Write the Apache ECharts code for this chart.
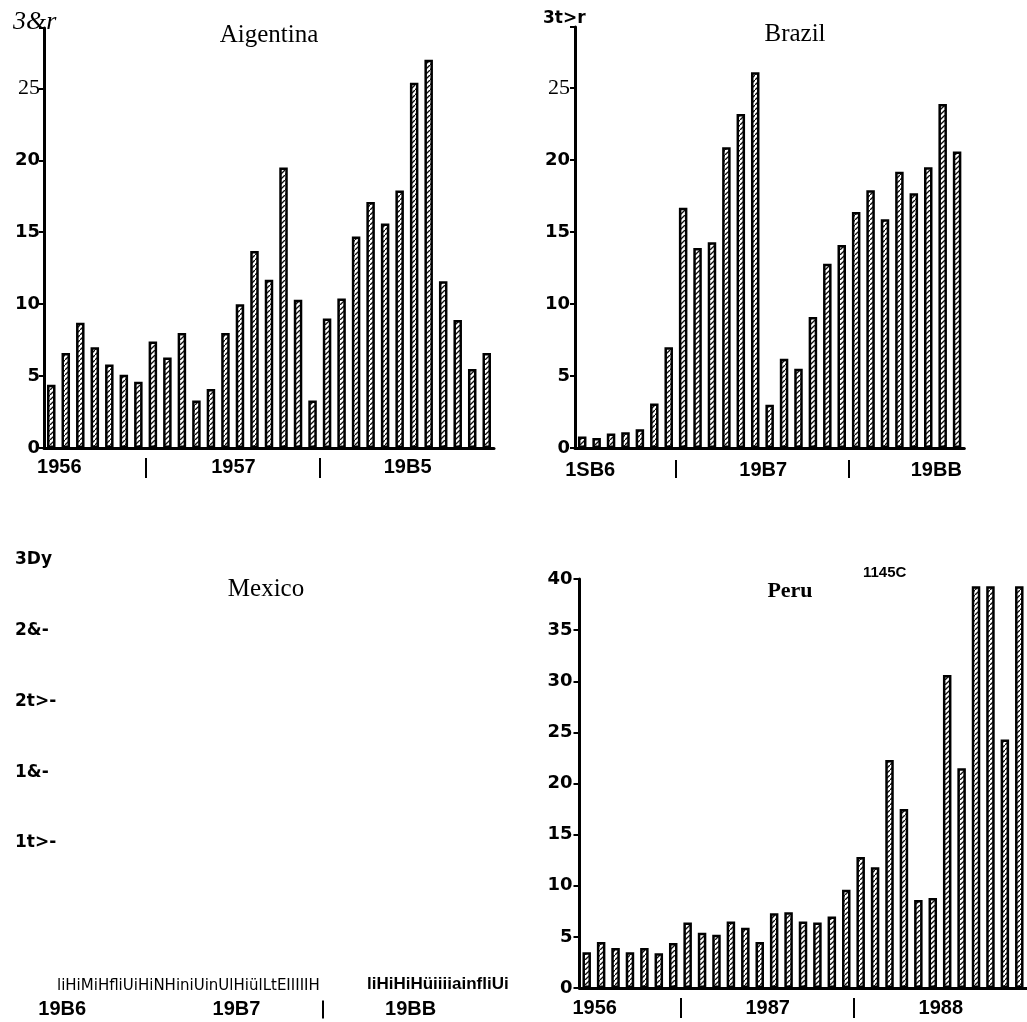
<!DOCTYPE html>
<html>
<head>
<meta charset="utf-8">
<script src="https://cdn.jsdelivr.net/npm/echarts@6/dist/echarts.min.js"></script>
<style>
html,body{margin:0;padding:0;background:#fff;}
#chart{width:1027px;height:1022px;}
</style>
</head>
<body>
<div id="chart"></div>
<script>
// ---------- DATA ----------
const months = ['Jun 1986','Jul 1986','Aug 1986','Sep 1986','Oct 1986','Nov 1986','Dec 1986',
  'Jan 1987','Feb 1987','Mar 1987','Apr 1987','May 1987','Jun 1987','Jul 1987','Aug 1987','Sep 1987','Oct 1987','Nov 1987','Dec 1987',
  'Jan 1988','Feb 1988','Mar 1988','Apr 1988','May 1988','Jun 1988','Jul 1988','Aug 1988','Sep 1988','Oct 1988','Nov 1988','Dec 1988'];
const brazilMonths = ['Jun 1986','Jul 1986','Aug 1986','Sep 1986','Oct 1986','Nov 1986','Dec 1986',
  'Jan 1987','Feb 1987','Mar 1987','Apr 1987','May 1987','Jun 1987','Jul 1987','Aug 1987','Sep 1987','Oct 1987','Nov 1987','Dec 1987',
  'Jan 1988','Feb 1988','Mar 1988','Apr 1988','May 1988','Jun 1988','Jul 1988','Aug 1988'];

const argentina = [4.4,6.6,8.7,7.0,5.8,5.1,4.6,
  7.4,6.3,8.0,3.3,4.1,8.0,10.0,13.7,11.7,19.5,10.3,3.3,
  9.0,10.4,14.7,17.1,15.6,17.9,25.4,27.0,11.6,8.9,5.5,6.6];
const brazil = [0.8,0.7,1.0,1.1,1.3,3.1,7.0,
  16.7,13.9,14.3,20.9,23.2,26.1,3.0,6.2,5.5,9.1,12.8,14.1,
  16.4,17.9,15.9,19.2,17.7,19.5,23.9,20.6];
const peru = [3.5,4.5,3.9,3.5,3.9,3.4,4.4,
  6.4,5.4,5.2,6.5,5.9,4.5,7.3,7.4,6.5,6.4,7.0,9.6,
  12.8,11.8,22.3,17.5,8.6,8.8,30.6,21.5,39.3,39.3,24.3,39.3];

const titles = ['Aigentina','Brazil','Mexico','Peru'];
const argYLabels = ['0','5','10','15','20','25','3&r'];
const brazilYLabels = ['0','5','10','15','20','25','3t>r'];
const mexicoYLabels = ['','','1t>-','1&-','2t>-','2&-','3Dy'];
const peruYLabels = ['0','5','10','15','20','25','30','35','40'];

const argYears = ['1956','1957','19B5'];
const brazilYears = ['1SB6','19B7','19BB'];
const mexicoYears = ['19B6','19B7','19BB'];
const peruYears = ['1956','1987','1988'];
const yearLabelIdx = [0,12,24];
const separatorIdx = [7,19];
const mexicoSeparatorIdx = [19];

const peruNote = '1145C';
const mexicoRowSmall = 'liHiMiHfliUiHiNHiniUinUlHiülLtEIIIIIH';
const mexicoRowBold = 'liHiHiHüiiiiainfliUi';

// ---------- STYLE ----------
const argYStyle = ['b','b','b','b','b','s','i'];
const brazilYStyle = ['b','b','b','b','b','s','w'];

function hatch(){
  const c = document.createElement('canvas');
  c.width = 5; c.height = 5;
  const g = c.getContext('2d');
  g.fillStyle = '#fff'; g.fillRect(0,0,5,5);
  g.strokeStyle = '#111'; g.lineWidth = 1.3;
  g.beginPath(); g.moveTo(-1,6); g.lineTo(6,-1); g.stroke();
  return c;
}
const pattern = {image: hatch(), repeat: 'repeat'};

const yRich = {
  b: {fontFamily:'DejaVu Sans', fontWeight:'bold', fontSize:18, color:'#000'},
  s: {fontFamily:'Liberation Serif', fontSize:22, color:'#000'},
  i: {fontFamily:'Liberation Serif', fontStyle:'italic', fontSize:26, color:'#000', width:27, align:'left', padding:[0,0,12,0]},
  w: {fontFamily:'DejaVu Sans', fontWeight:'bold', fontSize:17, color:'#000', width:27, align:'left', padding:[0,0,17,0]}
};
const yearRich = {
  y: {fontFamily:'Liberation Sans', fontWeight:'bold', fontSize:20, color:'#000', padding:[0,0,0,16]}
};

const grids = [
  {left:44, top:28, width:450, height:420},
  {left:575, top:27, width:389.3, height:421},
  {left:47, top:560, width:450, height:424.5},
  {left:579.5, top:579, width:447, height:409}
];

function yearFormatter(labels){
  return function(v, i){
    const k = yearLabelIdx.indexOf(i);
    return k >= 0 ? '{y|' + labels[k] + '}' : '';
  };
}
function mainX(gi, data, labels, margin, showLine){
  return {
    type:'category', gridIndex:gi, data:data, position:'bottom',
    axisLine:{show:showLine, lineStyle:{color:'#000', width:3}},
    axisTick:{show:false},
    axisLabel:{interval:0, margin:margin, formatter:yearFormatter(labels), rich:yearRich}
  };
}
function sepX(gi, count, idx, offset, len){
  return {
    type:'value', gridIndex:gi, min:0, max:count, position:'bottom', offset:offset,
    axisLine:{show:false}, axisLabel:{show:false}, splitLine:{show:false},
    axisTick:{show:true, length:len, customValues:idx, lineStyle:{color:'#000', width:2}}
  };
}
function valY(gi, max, labels, styles, margin, showLine, tickLen){
  return {
    type:'value', gridIndex:gi, min:0, max:max, interval:5,
    splitLine:{show:false},
    axisLine:{show:showLine, lineStyle:{color:'#000', width:3}},
    axisTick:{show:showLine, length:tickLen, lineStyle:{color:'#000', width:2}},
    axisLabel:{margin:margin, rich:yRich, showMaxLabel:true,
      formatter:function(v){
        const k = Math.round(v/5);
        const t = labels[k];
        if (!t) return '';
        const st = styles ? styles[k] : 'b';
        return '{' + st + '|' + t + '}';
      }}
  };
}

const mexicoY = valY(2, 30, mexicoYLabels, null, 32, false, 0);
mexicoY.axisLabel.align = 'left';
mexicoY.axisLabel.rich = {b:{fontFamily:'DejaVu Sans', fontWeight:'bold', fontSize:17, color:'#000'}};

function barSeries(xi, yi, data){
  return {
    type:'bar', xAxisIndex:xi, yAxisIndex:yi, data:data, barWidth:8.5,
    itemStyle:{color:pattern, borderColor:'#000', borderWidth:2.5},
    silent:true, animation:false
  };
}

const titleStyle = {fontFamily:'Liberation Serif', fontWeight:'normal', fontSize:25, color:'#000'};

const option = {
  backgroundColor:'#fff',
  animation:false,
  title:[
    {text:titles[0], left:269, top:23, padding:0, textAlign:'center', textStyle:titleStyle},
    {text:titles[1], left:795, top:22, padding:0, textAlign:'center', textStyle:titleStyle},
    {text:titles[2], left:266, top:577, padding:0, textAlign:'center', textStyle:titleStyle},
    {text:titles[3], left:790, top:580, padding:0, textAlign:'center', textStyle:Object.assign({}, titleStyle, {fontWeight:'bold', fontSize:22})}
  ],
  grid:grids,
  xAxis:[
    mainX(0, months, argYears, 9, true),
    mainX(1, brazilMonths, brazilYears, 12, true),
    mainX(2, months, mexicoYears, 15, false),
    mainX(3, months, peruYears, 10, true),
    sepX(0, months.length, separatorIdx, 10, 20),
    sepX(1, brazilMonths.length, separatorIdx, 12, 18),
    sepX(2, months.length, mexicoSeparatorIdx, 16, 18),
    sepX(3, months.length, separatorIdx, 10, 20)
  ],
  yAxis:[
    valY(0, 29.2, argYLabels, argYStyle, 4, true, 5),
    valY(1, 29.25, brazilYLabels, brazilYStyle, 5, true, 5),
    mexicoY,
    valY(3, 40, peruYLabels, null, 7, true, 6)
  ],
  series:[
    barSeries(0, 0, argentina),
    barSeries(1, 1, brazil),
    barSeries(3, 3, peru)
  ],
  graphic:[
    {type:'text', left:863, top:565, style:{text:peruNote, font:'bold 15px "Liberation Sans"', fill:'#000'}},
    {type:'text', left:57, top:979, style:{text:mexicoRowSmall, font:'15px "DejaVu Sans"', fill:'#000'}},
    {type:'text', left:367, top:976, style:{text:mexicoRowBold, font:'bold 17px "Liberation Sans"', fill:'#000'}}
  ]
};

const chart = echarts.init(document.getElementById('chart'), null, {renderer:'canvas'});
chart.setOption(option);
</script>
</body>
</html>
